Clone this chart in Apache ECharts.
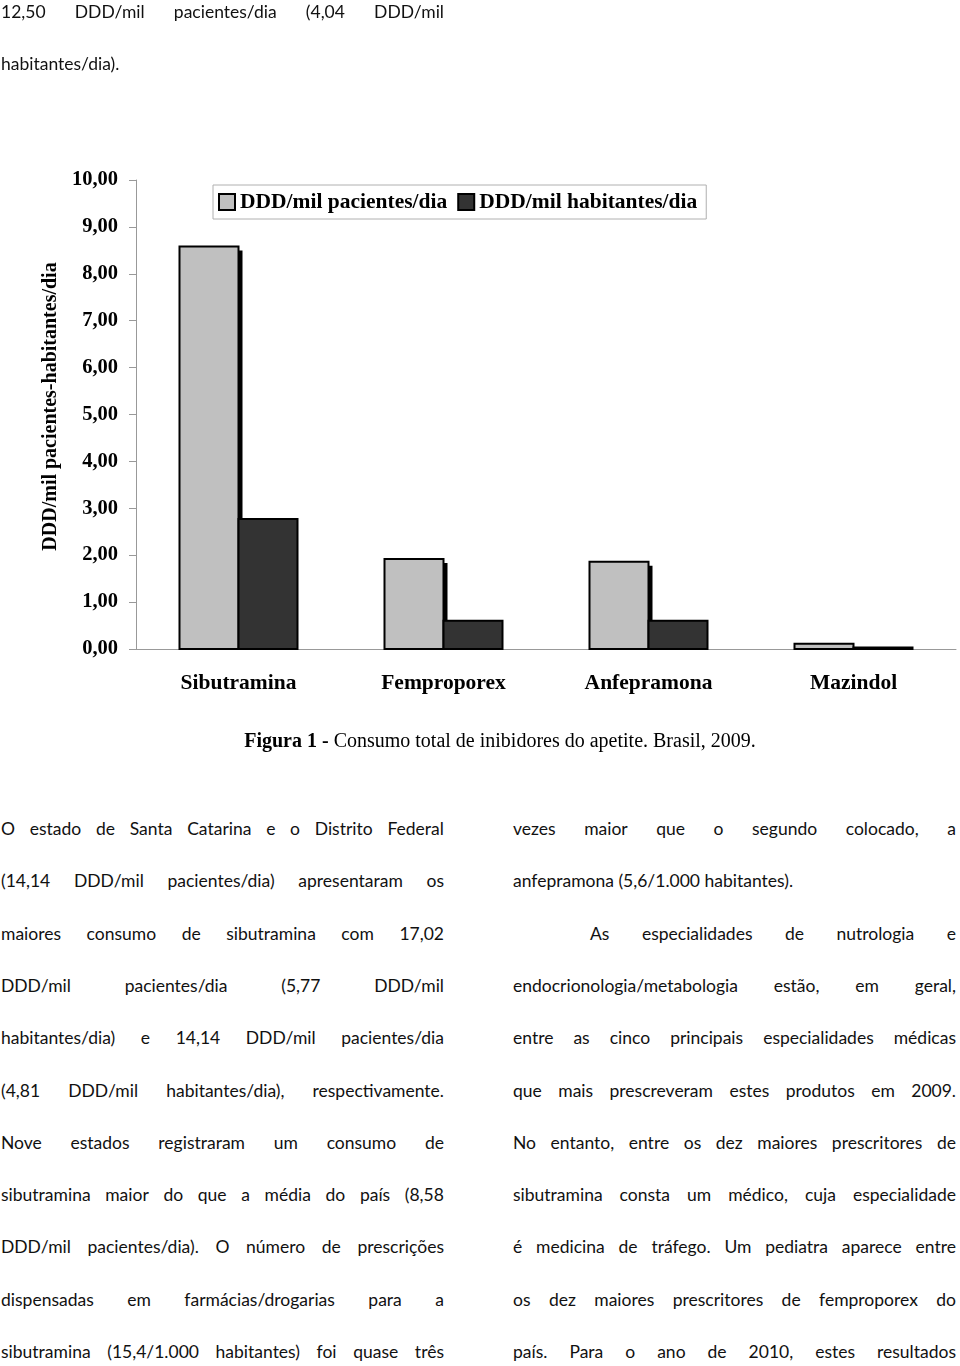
<!DOCTYPE html>
<html>
<head>
<meta charset="utf-8">
<script src="https://cdn.jsdelivr.net/npm/echarts@6/dist/echarts.min.js"></script>
<style>
html,body{margin:0;padding:0;background:#fff;}
#page{position:relative;width:960px;height:1366px;overflow:hidden;}
#chart{position:absolute;left:0;top:0;width:960px;height:780px;}
.ln{position:absolute;height:24px;line-height:24px;font-family:Lato,"Open Sans",sans-serif;font-size:17.5px;color:#111;white-space:nowrap;}
.jin{display:flex;justify-content:space-between;width:100%;}
#caption{position:absolute;left:0;width:1000px;top:729px;text-align:center;font-family:"Liberation Serif","Times New Roman",serif;font-size:20px;color:#000;white-space:nowrap;}
</style>
</head>
<body>
<div id="page">
<div id="chart"></div>
<div id="caption"><b>Figura 1 -</b> Consumo total de inibidores do apetite. Brasil, 2009.</div>
</div>
<script>
// ---- chart data ----
const categories = ['Sibutramina', 'Femproporex', 'Anfepramona', 'Mazindol'];
const seriesNames = ['DDD/mil pacientes/dia', 'DDD/mil habitantes/dia'];
const pacientes = [8.58, 1.92, 1.86, 0.11];
const habitantes = [2.77, 0.60, 0.60, 0.03];
const yAxisTitle = 'DDD/mil pacientes-habitantes/dia';

// ---- body text lines ----
const topLines = [
  ['12,50 DDD/mil pacientes/dia (4,04 DDD/mil', true],
  ['habitantes/dia).', false]
];
const leftLines = [
  ['O estado de Santa Catarina e o Distrito Federal', true],
  ['(14,14 DDD/mil pacientes/dia) apresentaram os', true],
  ['maiores consumo de sibutramina com 17,02', true],
  ['DDD/mil pacientes/dia (5,77 DDD/mil', true],
  ['habitantes/dia) e 14,14 DDD/mil pacientes/dia', true],
  ['(4,81 DDD/mil habitantes/dia), respectivamente.', true],
  ['Nove estados registraram um consumo de', true],
  ['sibutramina maior do que a média do país (8,58', true],
  ['DDD/mil pacientes/dia). O número de prescrições', true],
  ['dispensadas em farmácias/drogarias para a', true],
  ['sibutramina (15,4/1.000 habitantes) foi quase três', true]
];
const rightLines = [
  ['vezes maior que o segundo colocado, a', true],
  ['anfepramona (5,6/1.000 habitantes).', false],
  ['As especialidades de nutrologia e', true, 77],
  ['endocrionologia/metabologia estão, em geral,', true],
  ['entre as cinco principais especialidades médicas', true],
  ['que mais prescreveram estes produtos em 2009.', true],
  ['No entanto, entre os dez maiores prescritores de', true],
  ['sibutramina consta um médico, cuja especialidade', true],
  ['é medicina de tráfego. Um pediatra aparece entre', true],
  ['os dez maiores prescritores de femproporex do', true],
  ['país. Para o ano de 2010, estes resultados', true]
];

const serif = '"Liberation Serif","Times New Roman",serif';
const BAR_W = 59;
const LIGHT = '#c0c0c0', DARK = '#333333';

function makeRender(side, fill, withShadow) {
  return function (params, api) {
    const idx = api.value(0), val = api.value(1);
    const top = api.coord([idx, val]);
    const base = api.coord([idx, 0]);
    const x0 = side < 0 ? top[0] - BAR_W : top[0];
    const h = base[1] - top[1];
    const children = [];
    if (withShadow && h > 6) {
      children.push({type: 'rect', shape: {x: x0 + 4, y: top[1] + 4, width: BAR_W, height: h - 4}, style: {fill: '#000'}});
    }
    children.push({type: 'rect', shape: {x: x0, y: top[1], width: BAR_W, height: h}, style: {fill: fill, stroke: '#000', lineWidth: 2}});
    return {type: 'group', children: children};
  };
}

const chart = echarts.init(document.getElementById('chart'), null, {renderer: 'canvas'});
chart.setOption({
  animation: false,
  backgroundColor: '#fff',
  grid: {left: 136, right: 4, top: 180, bottom: 131, containLabel: false},
  legend: {
    left: 213, top: 185,
    padding: [6, 9, 6, 5],
    itemGap: 10,
    itemWidth: 16, itemHeight: 16,
    borderColor: '#b0b0b0', borderWidth: 1,
    icon: 'rect',
    itemStyle: {borderColor: '#000', borderWidth: 2},
    textStyle: {fontFamily: serif, fontWeight: 'bold', fontSize: 21.5, color: '#000'},
    data: seriesNames
  },
  xAxis: {
    type: 'category',
    data: categories,
    axisLine: {show: true, lineStyle: {color: '#999', width: 1}},
    axisTick: {show: false},
    axisLabel: {fontFamily: serif, fontWeight: 'bold', fontSize: 21.5, color: '#000', margin: 23}
  },
  yAxis: {
    type: 'value',
    min: 0, max: 10, interval: 1,
    name: yAxisTitle,
    nameLocation: 'middle',
    nameRotate: 90,
    nameGap: 63,
    nameTextStyle: {fontFamily: serif, fontWeight: 'bold', fontSize: 20, color: '#000', padding: [0, 0, 0, 16]},
    axisLine: {show: true, lineStyle: {color: '#999', width: 1}},
    axisTick: {show: true, length: 7, lineStyle: {color: '#999'}},
    splitLine: {show: false},
    axisLabel: {
      fontFamily: serif, fontWeight: 'bold', fontSize: 20.5, color: '#000', margin: 18,
      formatter: v => v.toFixed(2).replace('.', ',')
    }
  },
  series: [
    {
      name: seriesNames[0], type: 'custom',
      data: pacientes.map((v, i) => [i, v]),
      encode: {x: 0, y: 1},
      itemStyle: {color: LIGHT, borderColor: '#000', borderWidth: 2},
      renderItem: makeRender(-1, LIGHT, true)
    },
    {
      name: seriesNames[1], type: 'custom',
      data: habitantes.map((v, i) => [i, v]),
      encode: {x: 0, y: 1},
      itemStyle: {color: DARK, borderColor: '#000', borderWidth: 2},
      renderItem: makeRender(1, DARK, false)
    }
  ]
});

const page = document.getElementById('page');
function addLine(text, x, cy, w, justify) {
  const d = document.createElement('div');
  d.className = 'ln';
  d.style.left = x + 'px';
  d.style.top = (cy - 12) + 'px';
  d.style.width = w + 'px';
  page.appendChild(d);
  if (!justify) { d.textContent = text; return; }
  const words = text.split(' ');
  const inner = document.createElement('div');
  inner.className = 'jin';
  words.forEach(t => { const s = document.createElement('span'); s.textContent = t; inner.appendChild(s); });
  d.appendChild(inner);
  let sum = 0;
  inner.querySelectorAll('span').forEach(s => sum += s.getBoundingClientRect().width);
  const need = sum + 4.5 * (words.length - 1);
  if (need > w) {
    inner.style.width = need + 'px';
    inner.style.transformOrigin = '0 0';
    inner.style.transform = 'scaleX(' + (w / need) + ')';
  }
}
const lineY0 = 829, lineStep = 52.3;
topLines.forEach((l, i) => addLine(l[0], 1, 12 + i * 52.3, 443, l[1]));
leftLines.forEach((l, i) => addLine(l[0], 1, lineY0 + i * lineStep, 443, l[1]));
rightLines.forEach((l, i) => {
  const ind = l[2] || 0;
  addLine(l[0], 513 + ind, lineY0 + i * lineStep, 443 - ind, l[1]);
});
</script>
</body>
</html>
